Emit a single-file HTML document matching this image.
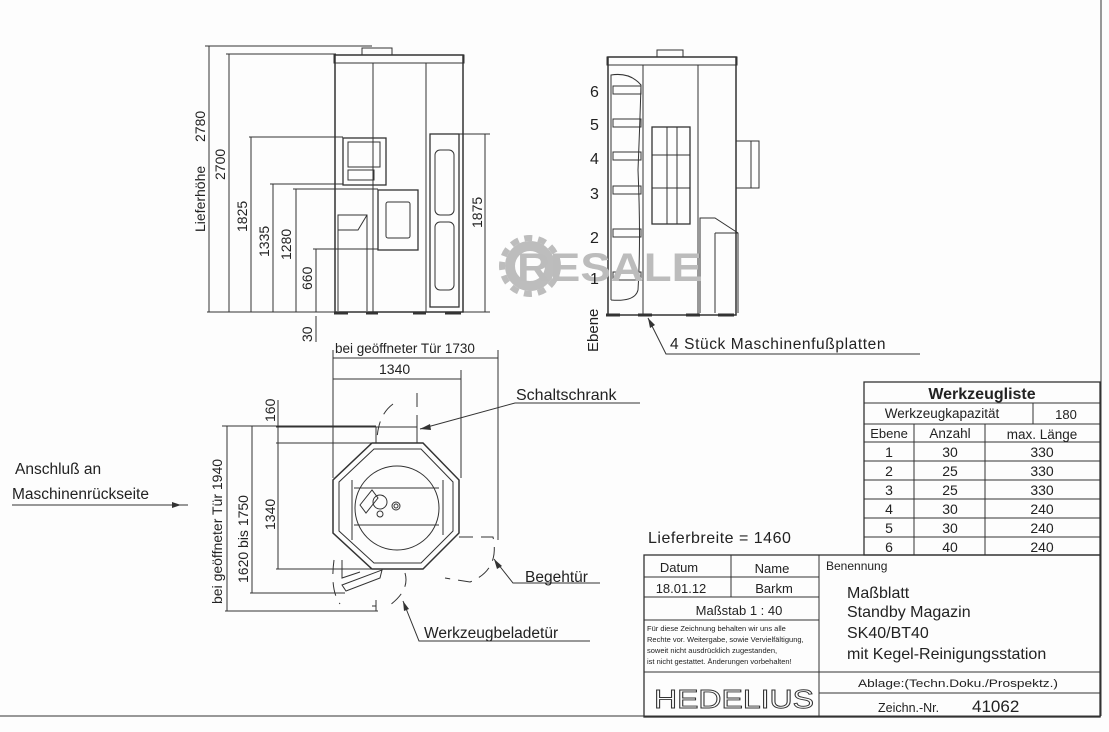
<!DOCTYPE html>
<html><head><meta charset="utf-8"><style>
html,body{margin:0;padding:0;background:#fff;}
svg{display:block;}
text{font-family:"Liberation Sans",sans-serif;}
</style></head><body>
<svg width="1109" height="732" viewBox="0 0 1109 732" xmlns="http://www.w3.org/2000/svg">
<rect width="1109" height="732" fill="#fdfdfd"/>
<g stroke="#333" stroke-width="1" fill="none">
<line x1="1101" y1="0" x2="1101" y2="716"/>
<line x1="0" y1="716" x2="1101" y2="716"/>

<!-- FRONT VIEW -->
<rect x="335" y="55" width="128" height="257" stroke-width="1.5"/>
<rect x="334" y="55" width="130" height="8"/>
<rect x="362" y="48" width="30" height="7"/>
<line x1="373" y1="63" x2="373" y2="312"/>
<line x1="426" y1="63" x2="426" y2="312"/>
<rect x="343" y="138" width="43" height="47" stroke-width="1.3"/>
<rect x="348" y="142" width="32" height="25"/>
<rect x="348" y="170" width="26" height="10"/>
<rect x="378" y="190" width="40" height="60" stroke-width="1.3"/>
<rect x="386" y="202" width="24" height="36" rx="2"/>
<rect x="430" y="134" width="29" height="173" stroke-width="1.3"/>
<rect x="435" y="150" width="19" height="65" rx="5"/>
<rect x="435" y="222" width="19" height="68" rx="5"/>
<path d="M338 311 V215 H367 V311 M338 230 H358 L367 215"/>
<g stroke-width="3"><line x1="334" y1="313" x2="348" y2="313"/><line x1="366" y1="313" x2="378" y2="313"/><line x1="413" y1="313" x2="426" y2="313"/><line x1="445" y1="313" x2="461" y2="313"/></g>
<line x1="207" y1="312" x2="335" y2="312"/>
<line x1="205" y1="46" x2="372" y2="46"/><line x1="209" y1="46" x2="209" y2="312"/>
<line x1="226" y1="54" x2="336" y2="54"/><line x1="229" y1="54" x2="229" y2="312"/>
<line x1="249" y1="137" x2="343" y2="137"/><line x1="251" y1="137" x2="251" y2="312"/>
<line x1="270" y1="184" x2="343" y2="184"/><line x1="273" y1="184" x2="273" y2="312"/>
<line x1="293" y1="189" x2="378" y2="189"/><line x1="296" y1="189" x2="296" y2="312"/>
<line x1="313" y1="249" x2="378" y2="249"/><line x1="316" y1="249" x2="316" y2="312"/>
<line x1="316" y1="316" x2="316" y2="342"/>
<line x1="459" y1="134" x2="490" y2="134"/><line x1="463" y1="312" x2="490" y2="312"/><line x1="485" y1="134" x2="485" y2="312"/>

<!-- SIDE VIEW -->
<rect x="608" y="57" width="128" height="258" stroke-width="1.5"/>
<rect x="607" y="57" width="130" height="8"/>
<rect x="657" y="50" width="26" height="7"/>
<line x1="643" y1="65" x2="643" y2="315"/>
<line x1="698" y1="65" x2="698" y2="315"/>
<path d="M611 300 V75 Q630 72 641 85 Q640 120 638 170 Q641 240 638 290 Q635 302 611 300"/>
<g>
<rect x="613" y="86" width="28" height="8"/><rect x="613" y="119" width="28" height="8"/><rect x="613" y="152" width="28" height="8"/><rect x="613" y="186" width="28" height="8"/><rect x="613" y="229" width="28" height="8"/><rect x="613" y="272" width="28" height="8"/>
</g>
<rect x="652" y="127" width="38" height="97" stroke-width="1.3"/>
<line x1="667" y1="127" x2="667" y2="224"/><line x1="677" y1="127" x2="677" y2="224"/>
<line x1="652" y1="155" x2="690" y2="155"/><line x1="652" y1="188" x2="690" y2="188"/>
<rect x="736" y="141" width="23" height="47"/><line x1="751" y1="141" x2="751" y2="188"/>
<path d="M700 313 V218 H715 L738 233 V313 M715 233 H738 M715 233 V313"/>
<g stroke-width="3"><line x1="606" y1="315" x2="620" y2="315"/><line x1="638" y1="315" x2="652" y2="315"/><line x1="686" y1="315" x2="700" y2="315"/><line x1="718" y1="315" x2="734" y2="315"/></g>
<path d="M648 318 L666 354 H920"/>

<!-- PLAN VIEW -->
<polygon points="372,443 423,443 459,480 459,533 423,569 372,569 333,533 333,480" stroke-width="1.5"/>
<polygon points="374,449 421,449 453,482 453,531 421,563 374,563 339,531 339,482"/>
<circle cx="397" cy="508" r="42"/>
<line x1="354" y1="488" x2="439" y2="488"/><line x1="354" y1="525" x2="439" y2="525"/>
<line x1="352" y1="480" x2="352" y2="540"/><line x1="443" y1="480" x2="443" y2="535"/>
<rect x="376" y="427" width="41" height="16"/>
<circle cx="380" cy="502" r="7"/><circle cx="396" cy="506" r="4"/><circle cx="396" cy="506" r="2"/>
<circle cx="380" cy="514" r="3"/>
<path d="M360 505 L372 490 L378 498 L366 513 Z"/>
<path d="M342 585 L382 570 L380 578 L346 591 Z"/>
<path d="M342 560 V578 L360 572"/>
<g stroke-dasharray="14,8">
<path d="M417 393 V427 M393 404 Q378 415 377 440"/>
<path d="M459 537 H493 Q500 570 470 582 L445 578"/>
<path d="M405 573 Q410 590 390 605 M372 606 H376"/>
<path d="M334 560 Q330 590 340 604"/>
</g>
<line x1="333" y1="350" x2="333" y2="478"/>
<line x1="498" y1="350" x2="498" y2="540"/>
<line x1="333" y1="358" x2="498" y2="358"/>
<line x1="461" y1="370" x2="461" y2="478"/>
<line x1="333" y1="379" x2="461" y2="379"/>
<line x1="276" y1="427" x2="376" y2="427"/><line x1="276" y1="443" x2="372" y2="443"/><line x1="276" y1="569" x2="372" y2="569"/>
<line x1="278" y1="400" x2="278" y2="569"/>
<line x1="222" y1="426" x2="376" y2="426"/>
<line x1="252" y1="426" x2="252" y2="593"/><line x1="250" y1="593" x2="345" y2="593"/>
<line x1="227" y1="426" x2="227" y2="611"/><line x1="225" y1="611" x2="378" y2="611"/><line x1="376" y1="600" x2="376" y2="611"/>
<path d="M420 429 L515 403 H640"/>
<path d="M494 559 L513 583 H600"/>
<path d="M403 601 L419 641 H590"/>
<line x1="12" y1="505" x2="188" y2="505"/>

<!-- TABLE -->
<rect x="864" y="382" width="236" height="173" stroke-width="1.3"/>
<line x1="864" y1="403" x2="1100" y2="403"/>
<line x1="864" y1="424" x2="1100" y2="424"/>
<line x1="1033" y1="403" x2="1033" y2="424"/>
<line x1="864" y1="442" x2="1100" y2="442"/>
<line x1="864" y1="461" x2="1100" y2="461"/>
<line x1="864" y1="480" x2="1100" y2="480"/>
<line x1="864" y1="499" x2="1100" y2="499"/>
<line x1="864" y1="518" x2="1100" y2="518"/>
<line x1="864" y1="537" x2="1100" y2="537"/>
<line x1="914" y1="424" x2="914" y2="555"/>
<line x1="985" y1="424" x2="985" y2="555"/>

<!-- TITLE BLOCK -->
<rect x="644" y="555" width="456" height="162" stroke-width="1.3"/>
<line x1="819" y1="555" x2="819" y2="717"/>
<line x1="731" y1="555" x2="731" y2="597"/>
<line x1="644" y1="577" x2="819" y2="577"/>
<line x1="644" y1="597" x2="819" y2="597"/>
<line x1="644" y1="620" x2="819" y2="620"/>
<line x1="644" y1="672" x2="1100" y2="672"/>
<line x1="819" y1="693" x2="1100" y2="693"/>
</g>
<g fill="#333">
<polygon points="181,505 172,502 172,508"/>
<polygon points="420,429 430,424 431,430"/>
<polygon points="494,559 497,569 502,566"/>
<polygon points="403,601 404,611 409,609"/>
<polygon points="648,318 650,328 655,325"/>
</g>

<!-- watermark -->
<circle cx="530" cy="266" r="20" fill="none" stroke="#bdbdbd" stroke-width="10"/>
<circle cx="530" cy="266" r="28" fill="none" stroke="#bdbdbd" stroke-width="6" stroke-dasharray="8,6"/>
<text x="517" y="281" font-size="40" font-weight="bold" style="fill:#bcbcbc" textLength="185" lengthAdjust="spacingAndGlyphs">RESALE</text>

<!-- TEXTS -->
<g font-size="14" style="fill:#222">
<text transform="translate(205,232) rotate(-90)">Lieferhöhe</text>
<text transform="translate(205,142) rotate(-90)">2780</text>
<text transform="translate(225,180) rotate(-90)">2700</text>
<text transform="translate(247,232) rotate(-90)">1825</text>
<text transform="translate(269,257) rotate(-90)">1335</text>
<text transform="translate(291,260) rotate(-90)">1280</text>
<text transform="translate(312,290) rotate(-90)">660</text>
<text transform="translate(312,342) rotate(-90)">30</text>
<text transform="translate(482,228) rotate(-90)">1875</text>
<text x="590" y="97" font-size="16">6</text>
<text x="590" y="130" font-size="16">5</text>
<text x="590" y="164" font-size="16">4</text>
<text x="590" y="199" font-size="16">3</text>
<text x="590" y="243" font-size="16">2</text>
<text x="590" y="284" font-size="16">1</text>
<text transform="translate(598,352) rotate(-90)" font-size="15">Ebene</text>
<text x="670" y="349" font-size="15.5" letter-spacing="0.6">4 Stück Maschinenfußplatten</text>
<text x="335" y="353" font-size="13.5">bei geöffneter Tür 1730</text>
<text x="379" y="374">1340</text>
<text x="516" y="400" font-size="16">Schaltschrank</text>
<text x="525" y="582" font-size="15.5">Begehtür</text>
<text x="424" y="638" font-size="15.5">Werkzeugbeladetür</text>
<text x="15" y="474" font-size="15.5">Anschluß an</text>
<text x="12" y="499" font-size="15.5">Maschinenrückseite</text>
<text transform="translate(275,422) rotate(-90)">160</text>
<text transform="translate(275,530) rotate(-90)">1340</text>
<text transform="translate(248,583) rotate(-90)">1620 bis 1750</text>
<text transform="translate(222,604) rotate(-90)">bei geöffneter Tür 1940</text>
<text x="648" y="543" font-size="16" letter-spacing="0.5">Lieferbreite = 1460</text>
</g>
<g font-size="14" text-anchor="middle" style="fill:#222">
<text x="982" y="399" font-size="16" font-weight="bold">Werkzeugliste</text>
<text x="942" y="418" font-size="13.5">Werkzeugkapazität</text>
<text x="1066" y="419" font-size="13">180</text>
<text x="889" y="438" font-size="13">Ebene</text>
<text x="950" y="438" font-size="13.5">Anzahl</text>
<text x="1042" y="439" font-size="13.5">max. Länge</text>
<text x="889" y="457">1</text><text x="950" y="457">30</text><text x="1042" y="457">330</text>
<text x="889" y="476">2</text><text x="950" y="476">25</text><text x="1042" y="476">330</text>
<text x="889" y="495">3</text><text x="950" y="495">25</text><text x="1042" y="495">330</text>
<text x="889" y="514">4</text><text x="950" y="514">30</text><text x="1042" y="514">240</text>
<text x="889" y="533">5</text><text x="950" y="533">30</text><text x="1042" y="533">240</text>
<text x="889" y="552">6</text><text x="950" y="552">40</text><text x="1042" y="552">240</text>
<text x="679" y="572" font-size="13">Datum</text>
<text x="772" y="573" font-size="13">Name</text>
<text x="681" y="593" font-size="13">18.01.12</text>
<text x="774" y="593" font-size="13">Barkm</text>
<text x="739" y="615" font-size="13">Maßstab 1 : 40</text>
<text x="958" y="687" font-size="11" textLength="200" lengthAdjust="spacingAndGlyphs">Ablage:(Techn.Doku./Prospektz.)</text>
</g>
<text x="826" y="570" font-size="12" style="fill:#222">Benennung</text>
<g font-size="16" style="fill:#222">
<text x="847" y="598">Maßblatt</text>
<text x="847" y="617">Standby  Magazin</text>
<text x="847" y="638">SK40/BT40</text>
<text x="847" y="659">mit  Kegel-Reinigungsstation</text>
</g>
<g font-size="7.5" style="fill:#222">
<text x="647" y="631">Für diese Zeichnung behalten wir uns alle</text>
<text x="647" y="642">Rechte vor. Weitergabe, sowie Vervielfältigung,</text>
<text x="647" y="653">soweit nicht ausdrücklich zugestanden,</text>
<text x="647" y="664">ist nicht gestattet. Änderungen vorbehalten!</text>
</g>
<text x="654" y="708" font-size="26" style="fill:none;stroke:#333;stroke-width:0.9" textLength="160" lengthAdjust="spacingAndGlyphs">HEDELIUS</text>
<text x="878" y="712" font-size="12.5" style="fill:#222">Zeichn.-Nr.</text>
<text x="972" y="712" font-size="17" style="fill:#222">41062</text>
</svg>
</body></html>
